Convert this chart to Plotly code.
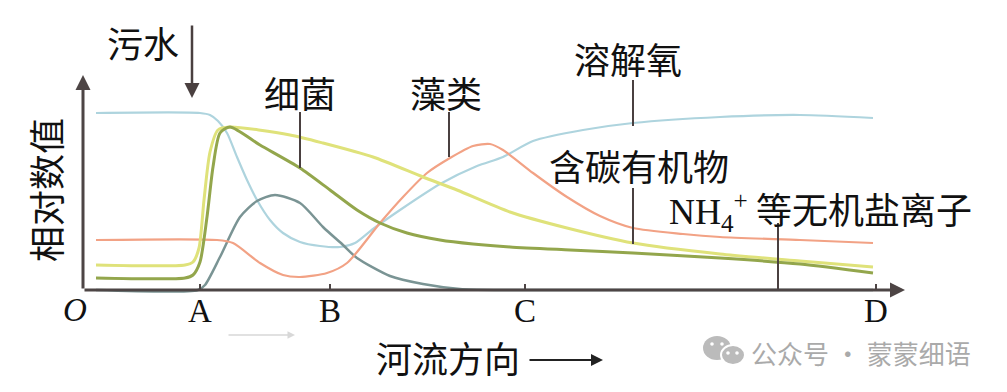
import plotly.graph_objects as go

# distance along the river (relative units) and relative values
do_x = [13, 117, 127, 135, 144, 154, 164, 174, 187, 200, 217, 237, 257, 272, 290, 317, 357, 394, 420, 450, 500, 550, 637, 717, 790]
do_y = [177, 177, 175, 169, 157, 133, 110, 90, 70, 57, 48, 44, 43, 47, 61, 80, 106, 124, 133, 149, 160, 167, 173, 175, 172]

carbon_x = [13, 102, 110, 116, 121, 127, 135, 147, 207, 240, 290, 340, 374, 427, 484, 550, 637, 717, 790]
carbon_y = [25, 25, 28, 42, 90, 138, 160, 163, 155, 147, 133, 113, 100, 78, 62, 47, 36, 29, 23]

bact_x = [13, 102, 110, 117, 124, 130, 137, 147, 177, 217, 247, 274, 297, 324, 357, 390, 427, 487, 550, 637, 717, 790]
bact_y = [12, 12, 15, 28, 73, 123, 157, 163, 145, 122, 100, 80, 67, 57, 50, 46, 43, 40, 37, 32, 26, 17]

nh4_x = [13, 115, 122, 137, 157, 174, 192, 217, 240, 260, 274, 307, 340, 377, 417, 790]
nh4_y = [0, 0, 5, 33, 73, 89, 95, 87, 63, 45, 32, 14, 6, 1, 0, 0]

algae_x = [13, 134, 150, 177, 200, 217, 244, 264, 297, 320, 344, 367, 390, 407, 420, 450, 484, 517, 550, 600, 637, 717, 790]
algae_y = [50, 50, 47, 27, 15, 13, 17, 27, 67, 93, 117, 132, 144, 146, 140, 117, 93, 74, 62, 56, 53, 50, 47]

tick_pos = [117, 247, 442, 793]
tick_text = ["A", "B", "C", "D"]

CJK = "Noto Sans CJK SC"
SERIF = "Liberation Serif"
AX = "#4d4545"

fig = go.Figure()

def add_line(x, y, color, w):
    fig.add_trace(go.Scatter(x=x, y=y, mode="lines",
                             line=dict(color=color, width=w, shape="spline", smoothing=0.7),
                             hoverinfo="skip", showlegend=False, cliponaxis=False))

add_line(do_x, do_y, "#aed4de", 2.2)
add_line(nh4_x, nh4_y, "#7a9494", 2.5)
add_line(algae_x, algae_y, "#f2a285", 2.2)
add_line(carbon_x, carbon_y, "#dfe27a", 3)
add_line(bact_x, bact_y, "#93a64c", 3)

ann = []
def arrow(x, y, ax, ay, w, color, size=1.0):
    ann.append(dict(x=x, y=y, ax=ax, ay=ay, axref="x", ayref="y", xref="x", yref="y", text="",
                    showarrow=True, arrowhead=2, arrowsize=size, arrowwidth=w, arrowcolor=color))

arrow(822, 0, 0, 0, 3, AX)          # x axis
arrow(0, 215, 0, 0, 3, AX)          # y axis
arrow(109, 192, 109, 266, 2.5, "#4a4040", 1.2)   # sewage
arrow(520, -70, 445, -70, 2, "#222222", 1.2)     # river direction
arrow(212, -45, 144, -45, 1.5, "#d8d8d8")        # faint arrow

def label(x, y, text, size=36, family=CJK, color="#111111", xanchor="center", angle=0):
    ann.append(dict(x=x, y=y, xref="x", yref="y", text=text, showarrow=False, xanchor=xanchor,
                    yanchor="middle", textangle=angle, font=dict(family=family, size=size, color=color)))

label(60, 248, "污水")
label(217, 198, "细菌")
label(363, 198, "藻类")
label(545, 232, "溶解氧")
label(556, 125, "含碳有机物")
label(584, 81, '<span style="font-family:Liberation Serif">NH<sub>4</sub><sup>+</sup></span> 等无机盐离子',
      xanchor="left")
label(-38, 100, "相对数值", angle=-90)
label(365, -67, "河流方向")
label(778, -62, "公众号 · 蒙蒙细语", size=26, color="#aaaaaa")
label(-8, -20, "<i>O</i>", size=33, family=SERIF)
for p, t in zip(tick_pos, tick_text):
    label(p, -21, t, size=33, family=SERIF)

shapes = []
# pointer lines
for px, y0, y1 in [(217, 178, 122), (366, 178, 133), (550, 210, 164), (550, 102, 46), (695, 67, 0)]:
    shapes.append(dict(type="line", xref="x", yref="y", x0=px, x1=px, y0=y0, y1=y1,
                       line=dict(color="#4a4040", width=2)))
# tick marks
for p in tick_pos:
    shapes.append(dict(type="line", xref="x", yref="y", x0=p, x1=p, y0=0, y1=6,
                       line=dict(color=AX, width=2)))
# wechat icon
shapes.append(dict(type="circle", xref="x", yref="y", x0=620, x1=648, y0=-70, y1=-46,
                   fillcolor="#bbbbbb", line=dict(width=0)))
shapes.append(dict(type="circle", xref="x", yref="y", x0=638, x1=662, y0=-75, y1=-55,
                   fillcolor="#bbbbbb", line=dict(color="white", width=2)))
for cx, cy, c in [(629, -54, "white"), (639, -54, "white"), (645, -63, "white"), (654, -63, "white")]:
    shapes.append(dict(type="circle", xref="x", yref="y", x0=cx - 1.8, x1=cx + 1.8, y0=cy - 1.8, y1=cy + 1.8,
                       fillcolor=c, line=dict(width=0)))

fig.update_layout(
    width=1007, height=392,
    margin=dict(l=0, r=0, t=0, b=0),
    paper_bgcolor="white", plot_bgcolor="white",
    xaxis=dict(range=[-83, 924], visible=False, fixedrange=True),
    yaxis=dict(range=[-102, 290], visible=False, fixedrange=True),
    annotations=ann, shapes=shapes, showlegend=False,
)

fig.write_html("out.html")
